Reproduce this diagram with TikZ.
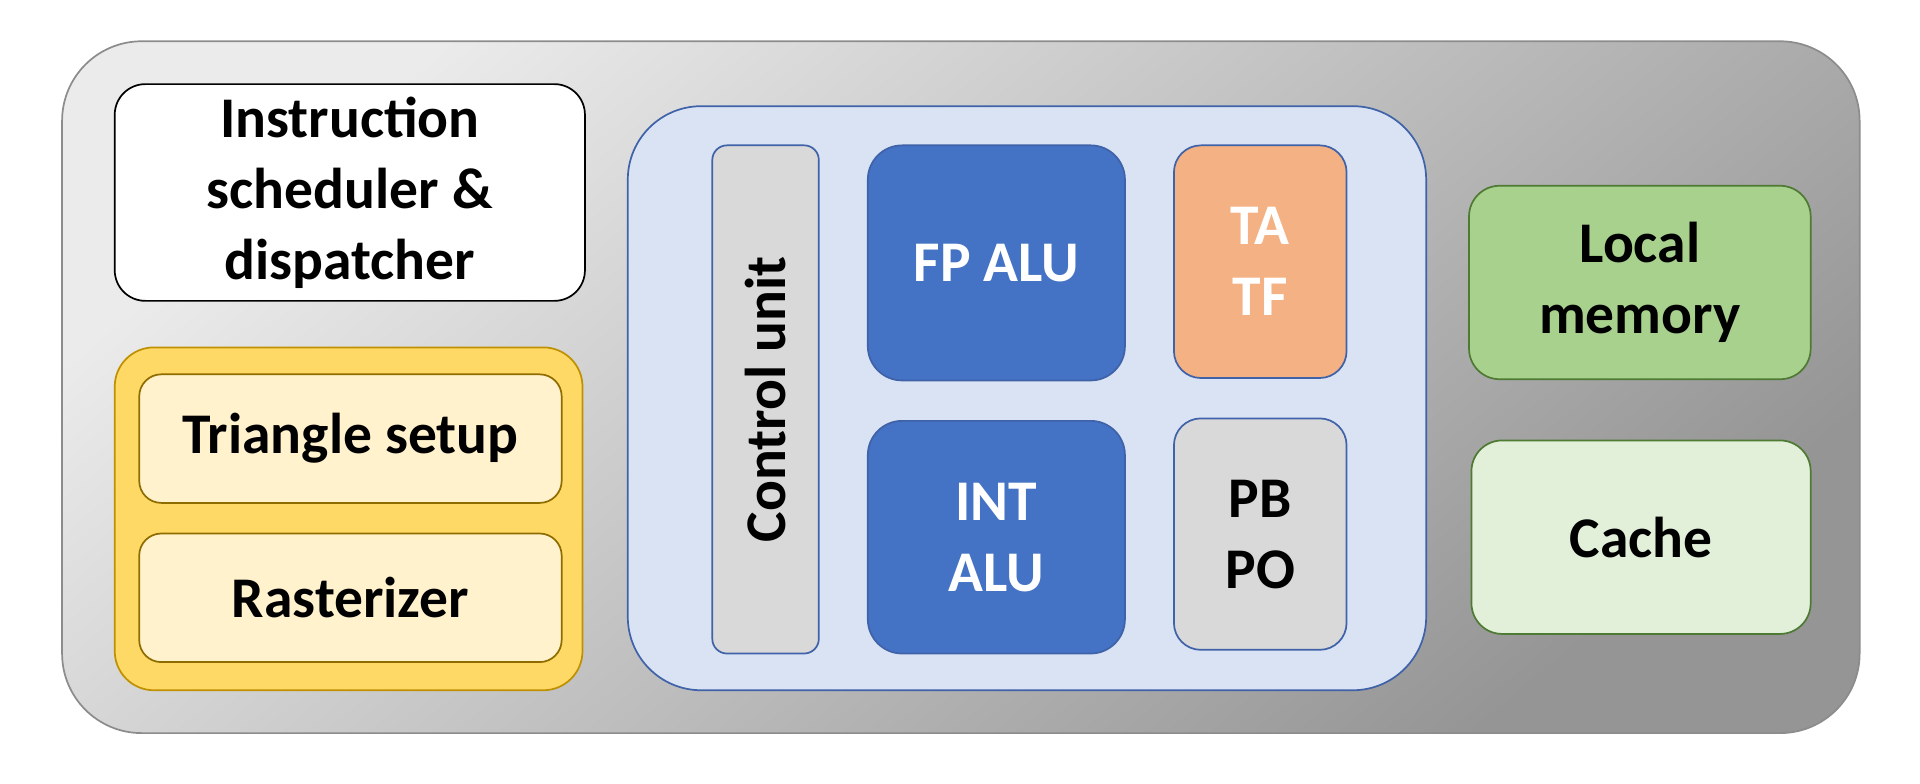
\documentclass[tikz,border=0pt]{standalone}
\usepackage{fontspec}
\setmainfont{Carlito}
\definecolor{grayline}{HTML}{8C8C8C}
\definecolor{grayA}{HTML}{EBEBEB}
\definecolor{grayB}{HTML}{959595}
\definecolor{goldfill}{HTML}{FFD966}
\definecolor{goldline}{HTML}{BF9000}
\definecolor{creamfill}{HTML}{FFF2CC}
\definecolor{creamline}{HTML}{8F6C00}
\definecolor{bluegrp}{HTML}{DAE3F3}
\definecolor{blueline}{HTML}{3F62A8}
\definecolor{bluefill}{HTML}{4472C4}
\definecolor{orangefill}{HTML}{F4B183}
\definecolor{lgray}{HTML}{D9D9D9}
\definecolor{greenfill}{HTML}{A9D18E}
\definecolor{lgreenfill}{HTML}{E2F0D9}
\definecolor{greenline}{HTML}{4E7A33}
\tikzset{
  blk/.style={rounded corners=#1, anchor=north west, line width=1.4pt, inner sep=0pt,
    font=\fontsize{47}{58}\selectfont\bfseries, align=center},
}
\begin{document}
\begin{tikzpicture}[x=1pt,y=-1pt]
\useasboundingbox (0,0) rectangle (1568,640);
% outer
\node[blk=65pt, draw=grayline, top color=grayA, bottom color=grayB, shading angle=40,
  minimum width=1468pt, minimum height=565pt] (core) at (50,33) {};
% left
\node[blk=25pt, draw=black, fill=white, minimum width=384pt, minimum height=177pt]
  (instr) at (93,68) {Instruction\\scheduler \&\\dispatcher};
\node[blk=32pt, draw=goldline, fill=goldfill, minimum width=382pt, minimum height=280pt]
  (raster) at (93,283) {};
\node[blk=18pt, draw=creamline, fill=creamfill, minimum width=345pt, minimum height=105pt]
  (tri) at (113,305) {Triangle setup};
\node[blk=18pt, draw=creamline, fill=creamfill, minimum width=345pt, minimum height=105pt]
  (rast) at (113,435) {Rasterizer};
% middle
\node[blk=60pt, draw=blueline, fill=bluegrp, minimum width=652pt, minimum height=477pt]
  (sp) at (512,86) {};
\node[blk=12pt, draw=blueline, fill=lgray, minimum width=87pt, minimum height=415pt]
  (ctrl) at (581,118) {};
\node[font=\fontsize{47}{58}\selectfont\bfseries, rotate=90] (ctrltxt) at (ctrl.center) {Control unit};
\node[blk=28pt, draw=blueline, fill=bluefill, text=white, minimum width=210pt, minimum height=192pt]
  (fp) at (708,118) {FP ALU};
\node[blk=28pt, draw=blueline, fill=bluefill, text=white, minimum width=210pt, minimum height=190pt]
  (int) at (708,343) {INT\\ALU};
\node[blk=22pt, draw=blueline, fill=orangefill, text=white, minimum width=141pt, minimum height=190pt]
  (tatf) at (958,118) {TA\\TF};
\node[blk=22pt, draw=blueline, fill=lgray, minimum width=141pt, minimum height=189pt]
  (pbpo) at (958,341) {PB\\PO};
% right
\node[blk=25pt, draw=greenline, fill=greenfill, minimum width=279pt, minimum height=158pt]
  (local) at (1199,151) {Local\\memory};
\node[blk=25pt, draw=greenline, fill=lgreenfill, minimum width=277pt, minimum height=158pt]
  (cache) at (1201,359) {Cache};
\end{tikzpicture}
\end{document}
